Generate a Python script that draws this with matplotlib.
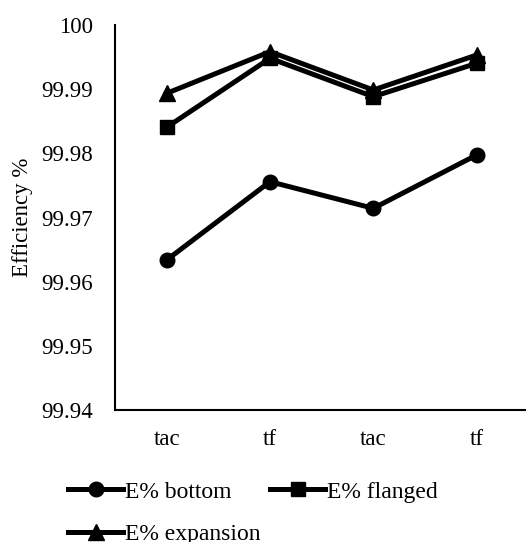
import matplotlib
matplotlib.use("Agg")
import matplotlib.pyplot as plt
from matplotlib.ticker import FixedLocator

categories = ["tac", "tf", "tac", "tf"]
bottom = [99.96338, 99.97558, 99.97143, 99.97974]
flanged = [99.98406, 99.99481, 99.98883, 99.99403]
expansion = [99.98935, 99.99584, 99.98987, 99.99532]
yticks = [99.94, 99.95, 99.96, 99.97, 99.98, 99.99, 100.0]
yticklabels = ["99.94", "99.95", "99.96", "99.97", "99.98", "99.99", "100"]

plt.rcParams['font.family'] = ['Liberation Serif', 'DejaVu Serif']
fs = 16.5

fig = plt.figure(figsize=(5.26, 5.42), dpi=100)
W, H = 526, 542
axw = 413.3
ax = fig.add_axes([115 / W, (H - 410) / H, axw / W, 385 / H])

x = list(range(len(categories)))
lw = 3.6
l1, = ax.plot(x, bottom, color='black', lw=lw, marker='o', ms=10.5, label='E% bottom', zorder=3)
l2, = ax.plot(x, flanged, color='black', lw=lw, marker='s', ms=10, label='E% flanged', zorder=4)
l3, = ax.plot(x, expansion, color='black', lw=lw, marker='^', ms=11, label='E% expansion', zorder=5)

ax.set_xlim(-0.5, 3.5)
ax.set_ylim(99.94, 100.0)
ax.yaxis.set_major_locator(FixedLocator(yticks))
ax.set_yticklabels(yticklabels, fontsize=fs)
ax.set_xticks(x)
ax.set_xticklabels(categories, fontsize=fs)
ax.tick_params(axis='both', length=0)
ax.tick_params(axis='y', pad=15.6)
ax.tick_params(axis='x', pad=14)
for s in ['top', 'right']:
    ax.spines[s].set_visible(False)
for s in ['left', 'bottom']:
    ax.spines[s].set_linewidth(1.5)
ax.set_ylabel("Efficiency %", fontsize=fs)
ax.yaxis.set_label_coords((33 - 115) / axw, 0.5)

leg = fig.legend([l1, l3, l2], ['E% bottom', 'E% expansion', 'E% flanged'],
                 ncol=2, loc='upper left', bbox_to_anchor=(68 / W, 1 - 481 / H),
                 frameon=False, fontsize=17, handlelength=2.35, handletextpad=0.08,
                 columnspacing=0.38, labelspacing=0.9, borderaxespad=0, borderpad=0)

fig.savefig("out.png", dpi=100)
